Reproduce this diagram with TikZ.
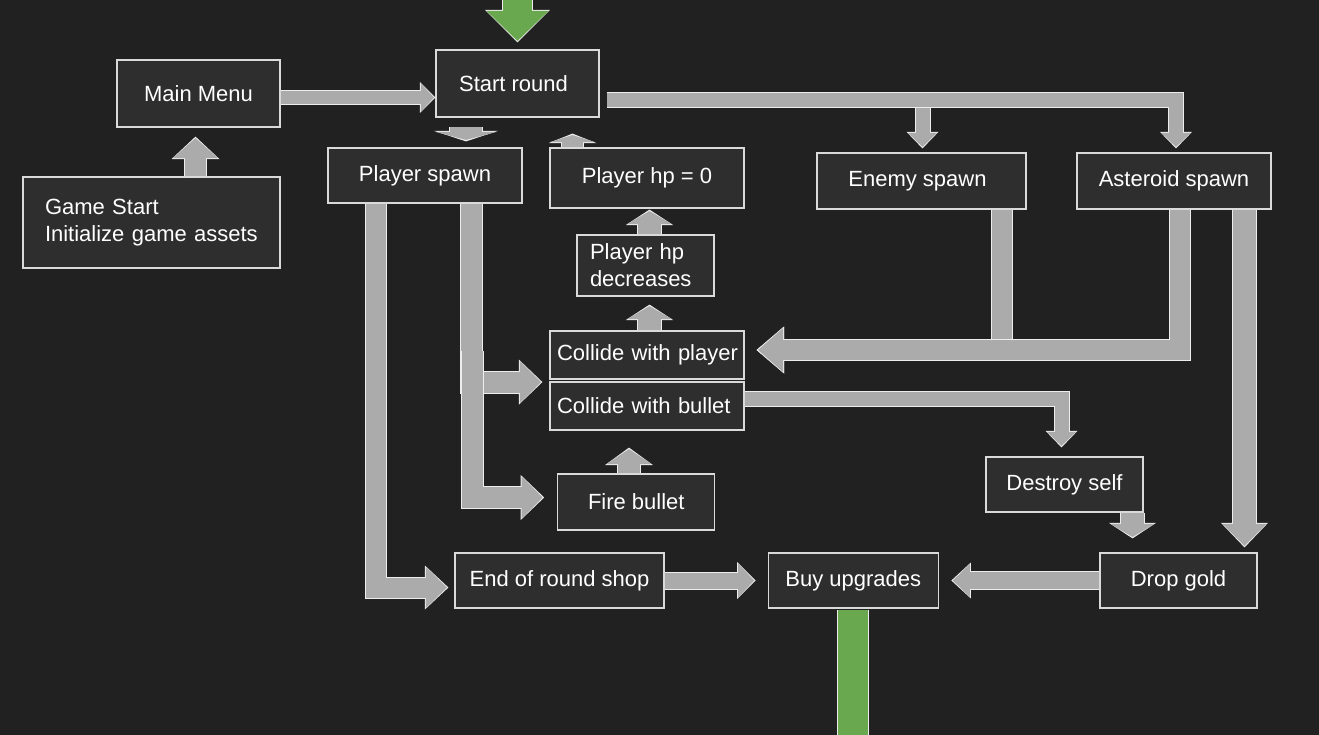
\documentclass[tikz,border=0pt]{standalone}
\usepackage{fontspec}
\setmainfont{Liberation Sans}
\usetikzlibrary{arrows.meta}
\usetikzlibrary{calc}
\definecolor{bg}{HTML}{212121}
\definecolor{boxfill}{HTML}{2E2E2E}
\definecolor{boxedge}{HTML}{DADADA}
\definecolor{barfill}{HTML}{ABABAB}
\definecolor{baredge}{HTML}{EDEDED}
\definecolor{gofill}{HTML}{6AA84F}
\tikzset{box/.style = {draw = boxedge, fill = boxfill, line width = 1.2pt, text = white,
    font = \fontsize{22}{27}\selectfont, inner sep = 0}}
\tikzset{lbox/.style = {box, align = left}}
% block arrow: {colour}{shaft}{head width}{head length}{gap}{path}
\newcommand{\barrow}[6]{%
  \pgfmathsetmacro{\bw}{#2+2}%
  \pgfmathsetmacro{\bW}{#3+3}%
  \pgfmathsetmacro{\bL}{#4+2.5}%
  \pgfmathsetmacro{\bs}{#5+1.5}%
  \draw [baredge, line width=\bw pt, shorten >=#5pt,
    -{Triangle[width=\bW pt, length=\bL pt, line width=0pt]}] #6;
  \draw [#1, line width=#2pt, shorten >=\bs pt,
    -{Triangle[width=#3pt, length=#4pt, line width=0pt]}] #6;
}

\begin{document}
\begin{tikzpicture}[x=1pt, y=-1pt]
      \fill [bg] (0, 0) rectangle (1319, 735);
      \useasboundingbox (0, 0) rectangle (1319, 735);
      % boxes
      \node [box, minimum width=163pt, minimum height=67pt] (main) at (198.5, 93.5) {Main Menu};
      \node [lbox, text width=213pt, inner xsep=22pt, minimum height=91pt] (gstart) at (151.5, 222.5)
        {Game Start\\Initialize game assets};
      \node [box, minimum width=163pt, minimum height=67pt] (start) at (517.5, 83.5) {Start round\hspace*{8pt}};
      \node [box, minimum width=194pt, minimum height=55pt] (pspawn) at (425, 175.5) {Player spawn};
      \node [box, minimum width=194pt, minimum height=60pt] (hpzero) at (647, 178) {Player hp = 0};
      \node [box, minimum width=209pt, minimum height=56pt] (enemy) at (921.5, 181) {Enemy spawn\hspace*{8pt}};
      \node [box, minimum width=194pt, minimum height=56pt] (aster) at (1174, 181) {Asteroid spawn};
      \node [lbox, text width=111pt, inner xsep=13pt, minimum height=61pt] (hpdec) at (645.5, 265.5)
        {Player hp\\decreases};
      \node [lbox, text width=180pt, inner xsep=7pt, minimum height=48pt] (cplayer) at (647, 355)
        {\mbox{Collide with player}};
      \node [lbox, text width=180pt, inner xsep=7pt, minimum height=48pt] (cbullet) at (647, 406)
        {\mbox{Collide with bullet}};
      \node [box, minimum width=157pt, minimum height=56pt] (fire) at (636.3, 502) {Fire bullet};
      \node [box, minimum width=157pt, minimum height=55pt] (destroy) at (1064.5, 484.5) {Destroy self};
      \node [box, minimum width=209pt, minimum height=55pt] (shop) at (559.5, 580.5) {End of round shop};
      \node [box, minimum width=170pt, minimum height=55pt] (buy) at (853.25, 580.5) {Buy upgrades};
      \node [box, minimum width=157pt, minimum height=55pt] (gold) at (1178.5, 580.5) {Drop gold};
      % in and out of the loop
      \coordinate (entry) at (517.5, -5);
      \coordinate (exit) at (853.25, 745);
      \barrow{gofill}{29}{62}{30}{7}{(entry) -- (start.north)}
      \draw [baredge, line width=32pt] ($(buy.south)+(0, 1)$) -- (exit);
      \draw [gofill, line width=30pt] ($(buy.south)+(0, 1)$) -- (exit);
      % arrows
      \barrow{barfill}{13}{28}{13}{0}{($(main.east)+(0, 4)$) -- ($(start.west)+(0, 14)$)}
      \barrow{barfill}{21}{45}{20}{9}{($(gstart.north)+(44, 0)$) -- ($(main.south)+(-3, 0)$)}
      \barrow{barfill}{32}{61}{8}{6}{($(start.south)+(-51.5, 9)$) -- ($(pspawn.north)+(41, 0)$)}
      \barrow{barfill}{21}{45}{7}{16}{($(hpzero.north)+(-74.5, 0)$) -- ($(start.south)+(55, 0)$)}
      \barrow{barfill}{14}{29}{14}{4}{($(start.east)+(7, 16.5)$) -| ($(enemy.north)+(1, 0)$)}
      \barrow{barfill}{14}{29}{14}{4}{($(start.east)+(252, 16.5)$) -| ($(aster.north)+(2, 0)$)}
      \barrow{barfill}{20}{44}{25}{12}{($(enemy.south)+(80.25, 0)$) |- ($(cplayer.east)+(0, -5)$)}
      \barrow{barfill}{20}{44}{25}{12}{($(aster.south)+(5.75, 0)$) |- ($(cplayer.east)+(0, -5)$)}
      \barrow{barfill}{23}{44}{22}{5}{($(aster.south)+(70.5, 0)$) -- ($(gold.north)+(66, 0)$)}
      \barrow{barfill}{21}{42}{21}{7}{($(pspawn.south)+(46, 0)$) |- ($(cplayer.south west)+(0, 2.5)$)}
      \barrow{barfill}{21}{42}{21}{13}{($(pspawn.south)+(47.5, 147)$) |- ($(fire.west)+(0, -4.5)$)}
      \barrow{barfill}{20}{41}{21}{6}{($(pspawn.south)+(-49, 0)$) |- ($(shop.west)+(0, 7)$)}
      \barrow{barfill}{22}{45}{15}{17}{($(fire.north)+(-7.3, 0)$) -- ($(cbullet.south)+(-18, 0)$)}
      \barrow{barfill}{23}{44.5}{13}{8}{($(cplayer.north)+(2.5, 0)$) -- ($(hpdec.south)+(4, 0)$)}
      \barrow{barfill}{23}{44.5}{13}{1}{($(hpdec.north)+(4, 0)$) -- ($(hpzero.south)+(2.5, 0)$)}
      \barrow{barfill}{14}{29}{14}{9}{($(cbullet.east)+(0, -7)$) -| ($(destroy.north)+(-3, 0)$)}
      \barrow{barfill}{23}{44}{13}{14}{($(destroy.south)+(68, 0)$) -- ($(gold.north)+(-46, 0)$)}
      \barrow{barfill}{17}{33}{17}{12.5}{(gold.west) -- (buy.east)}
      \barrow{barfill}{16}{34}{16}{12}{(shop.east) -- (buy.west)}
\end{tikzpicture}
\end{document}
